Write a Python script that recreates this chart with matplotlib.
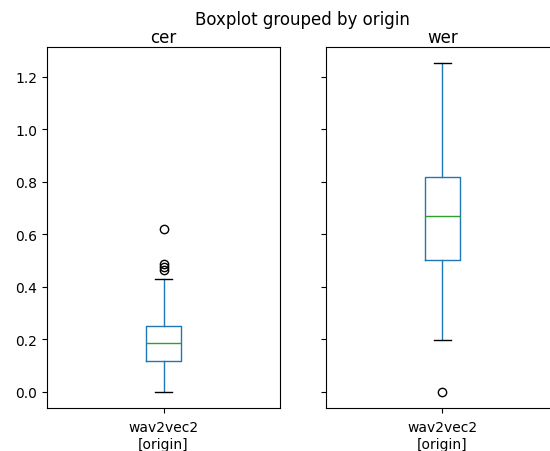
import numpy as np
import matplotlib
matplotlib.use("Agg")
import matplotlib.pyplot as plt

# box statistics (one group: wav2vec2)
metrics = ["cer", "wer"]
group = "wav2vec2"
whislo = [0.0, 0.198]
q1 = [0.118, 0.502]
med = [0.187, 0.669]
q3 = [0.249, 0.819]
whishi = [0.43, 1.25]
fliers = [[0.465, 0.475, 0.485, 0.618], [0.0]]

fig = plt.figure(figsize=(5.5, 4.52), dpi=100)
ax1 = fig.add_axes([0.0855, 0.0951, 0.4236, 0.7987])
ax2 = fig.add_axes([0.5927, 0.0951, 0.4236, 0.7987], sharey=ax1)

for i, ax in enumerate([ax1, ax2]):
    stats = [dict(whislo=whislo[i], q1=q1[i], med=med[i], q3=q3[i],
                  whishi=whishi[i], fliers=fliers[i], label=group)]
    ax.bxp(stats, positions=[1],
           boxprops=dict(color="#1f77b4"),
           whiskerprops=dict(color="#1f77b4"),
           medianprops=dict(color="#2ca02c"),
           capprops=dict(color="black"),
           flierprops=dict(marker="o", markeredgecolor="black"))
    ax.set_title(metrics[i], pad=3.8)
    ax.set_xlabel("[origin]", labelpad=2)
    ax.set_xticks([1])
    ax.set_xticklabels([group])
    ax.tick_params(axis="x", pad=5)

ax1.set_yticks([0.0, 0.2, 0.4, 0.6, 0.8, 1.0, 1.2])
ax1.autoscale(axis="y")
plt.setp(ax2.get_yticklabels(), visible=False)

fig.suptitle("Boxplot grouped by origin", x=302 / 550, y=0.976)

plt.savefig("out.png", dpi=100)
